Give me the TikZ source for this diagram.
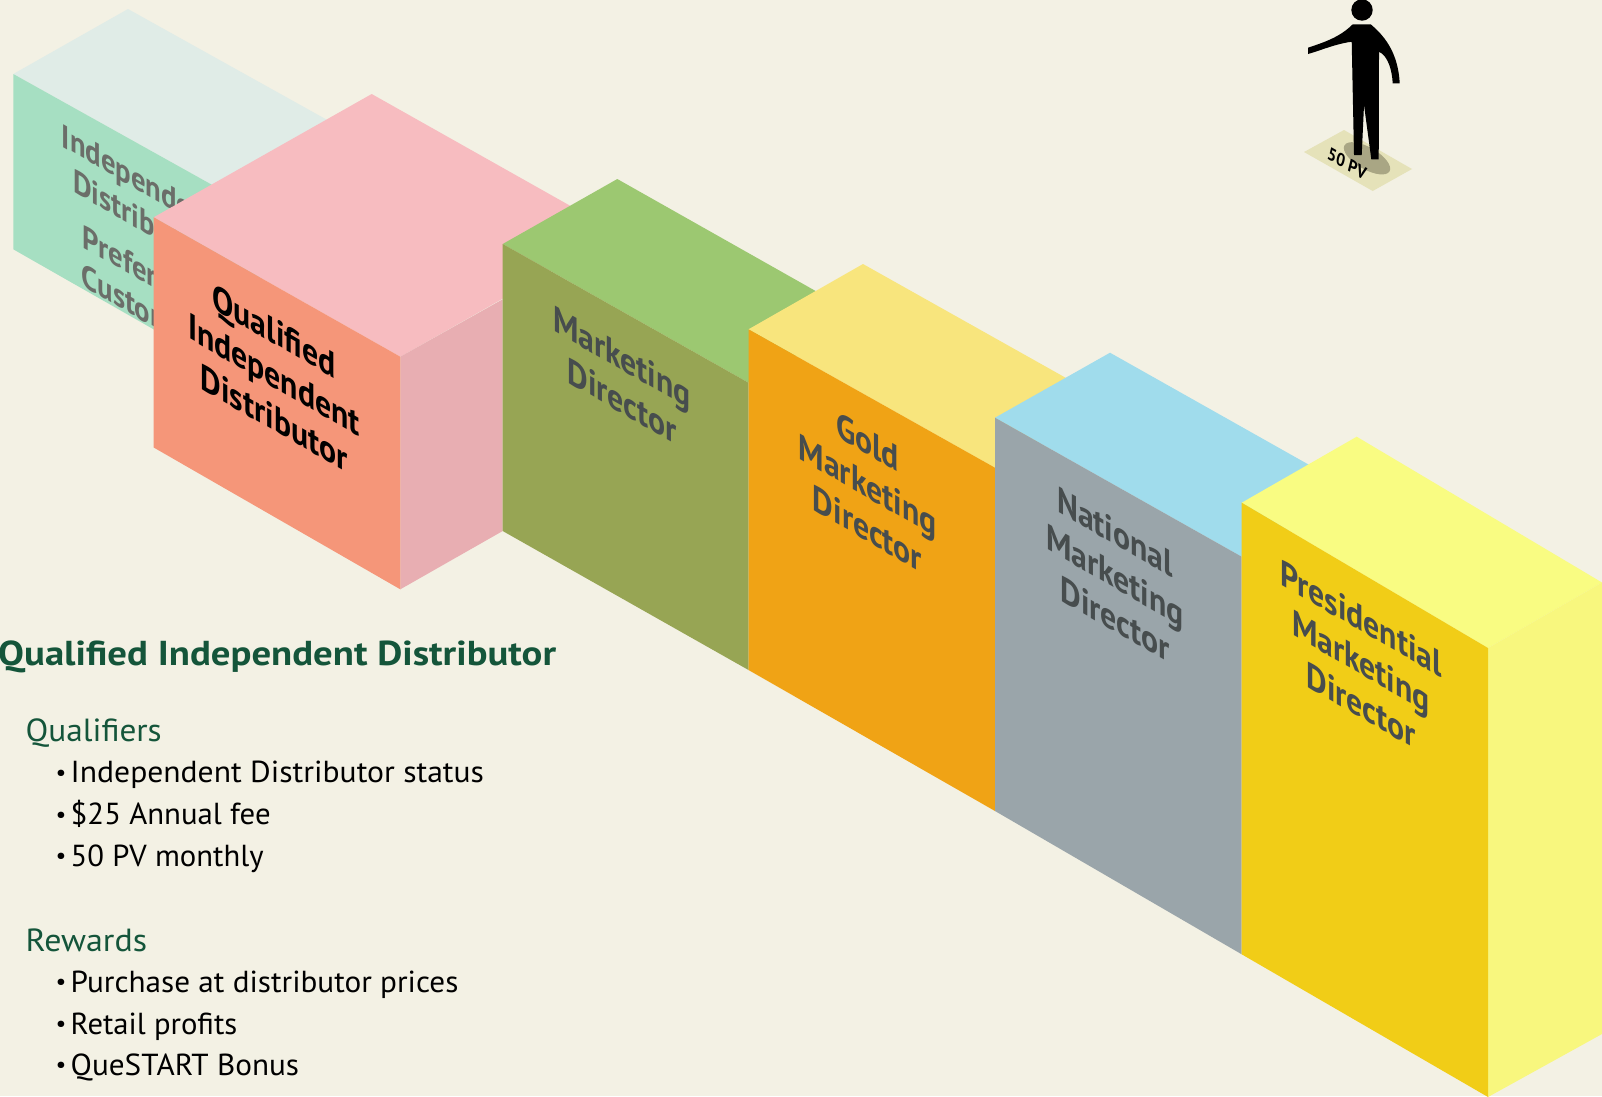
\documentclass[tikz,border=0pt]{standalone}
\usepackage{fontspec}
\setmainfont[FakeStretch=1.04]{PT Sans}
\newfontfamily\headfont[FakeStretch=1.12]{PT Sans Bold}
\newfontfamily\labelfont{PT Sans Bold}
\definecolor{bg}{HTML}{F3F1E4}
\definecolor{headgreen}{HTML}{14553A}
\definecolor{labelgray}{HTML}{474D4E}
\definecolor{faintgray}{HTML}{6B6E69}
\definecolor{aTop}{RGB}{224,236,231}
\definecolor{aFront}{RGB}{166,223,194}
\definecolor{bTop}{RGB}{247,188,192}
\definecolor{bSide}{RGB}{232,174,178}
\definecolor{bFront}{RGB}{245,150,121}
\definecolor{cTop}{RGB}{156,200,113}
\definecolor{cFront}{RGB}{151,165,84}
\definecolor{dTop}{RGB}{248,229,125}
\definecolor{dFront}{RGB}{240,163,21}
\definecolor{eTop}{RGB}{160,220,236}
\definecolor{eFront}{RGB}{154,165,170}
\definecolor{fTop}{RGB}{249,252,130}
\definecolor{fSide}{RGB}{248,247,126}
\definecolor{fFront}{RGB}{241,205,23}
\definecolor{matCol}{RGB}{229,226,185}
\definecolor{shadowCol}{RGB}{169,166,132}
\tikzset{
  iso/.style={cm={.87,-.5,0,1,(0,0)},align=center,inner sep=0pt,font=\fontsize{36.5}{43.5}\selectfont\labelfont},
  isotight/.style={cm={.87,-.5,0,1,(0,0)},align=center,inner sep=0pt,font=\fontsize{33}{39}\selectfont\labelfont},
  floorlabel/.style={cm={.87,-.5,.25,1,(0,0)},inner sep=0pt,font=\fontsize{17}{17}\selectfont\labelfont},
  headline/.style={anchor=base west,inner sep=0pt,text=headgreen,font=\fontsize{34.6}{34.6}\selectfont\headfont},
  sectionhead/.style={anchor=base west,inner sep=0pt,text=headgreen,font=\fontsize{32}{32}\selectfont},
  listitem/.style={anchor=base west,inner sep=0pt,text=black,font=\fontsize{30.4}{30.4}\selectfont},
  listbullet/.style={anchor=base west,inner sep=0pt,text=black,font=\fontsize{23}{23}\selectfont},
}
\begin{document}
\begin{tikzpicture}[x=1pt,y=-1pt]
\useasboundingbox (0,0) rectangle (1602,1096);
\clip (0,0) rectangle (1602,1096);
\fill[bg] (0,0) rectangle (1602,1096);
% block 1
\fill[aTop] (13.3,74) -- (128,9) -- (374,146) -- (260,211.6) -- cycle;
\fill[aFront] (13.3,74) -- (260,211.6) -- (260,390) -- (13.3,249.3) -- cycle;
\node[isotight,text=faintgray] (b1a) at (139.5,199) {Independent\\Distributor};
\node[isotight,text=faintgray] (b1b) at (140,288) {Preferred\\Customer};
% block 2
\fill[bTop] (153.7,217.3) -- (371.7,94) -- (618.5,233) -- (400.3,356.7) -- cycle;
\fill[bSide] (400.3,356.7) -- (502.7,299.3) -- (502.7,531) -- (400.3,589.3) -- cycle;
\fill[bFront] (153.7,217.3) -- (400.3,356.7) -- (400.3,589.3) -- (153.7,447.5) -- cycle;
\node[iso,text=black] (b2) at (274,374.5) {Qualified\\Independent\\Distributor};
% block 3
\fill[cTop] (502.7,244) -- (617.3,179) -- (862.9,317.7) -- (748.5,382.7) -- cycle;
\fill[cFront] (502.7,244) -- (748.5,382.7) -- (748.5,670) -- (502.7,531) -- cycle;
\node[iso,text=labelgray] (b3) at (622,379) {Marketing\\Director};
% block 4
\fill[dTop] (748.5,329.3) -- (863,264) -- (1109.5,402.4) -- (995,467.7) -- cycle;
\fill[dFront] (748.5,329.3) -- (995,467.7) -- (995,811) -- (748.5,670) -- cycle;
\node[iso,text=labelgray] (b4) at (867.5,485) {Gold\\Marketing\\Director};
% block 5
\fill[eTop] (995,417.7) -- (1110,352.7) -- (1356.7,491.7) -- (1241.7,556.7) -- cycle;
\fill[eFront] (995,417.7) -- (1241.7,556.7) -- (1241.7,954.3) -- (995,811) -- cycle;
\node[iso,text=labelgray] (b5) at (1115,575.5) {National\\Marketing\\Director};
% block 6
\fill[fTop] (1241.7,502.7) -- (1356.7,436.7) -- (1602,582.5) -- (1488,648) -- cycle;
\fill[fSide] (1488,648) -- (1602,582.5) -- (1602,1034) -- (1488,1097) -- cycle;
\fill[fFront] (1241.7,502.7) -- (1488,648) -- (1488,1097) -- (1241.7,954.3) -- cycle;
\node[iso,text=labelgray] (b6) at (1361,661.7) {Presidential\\Marketing\\Director};
% figure
\fill[matCol] (1344,130) -- (1412,169) -- (1372.7,191) -- (1304,152) -- cycle;
\fill[shadowCol,rotate around={-30:(1367,158.3)}] (1367,158.3) ellipse [x radius=26,y radius=11];
\node[floorlabel,text=black] (pv) at (1347,163.5) {50 PV};
\fill[black] (1362,10) circle [radius=10.7];
\fill[black] (1352.7,24.3) -- (1370.7,24.3) .. controls (1382,34) and (1398,50) .. (1399.7,83.3) -- (1392.7,83.3)
  .. controls (1392,70) and (1388,56) .. (1379,51.7) -- (1378.7,159.3) -- (1371.3,159.3) -- (1364,105) -- (1361.7,155) -- (1354,155) -- (1351.7,41.7)
  .. controls (1335,44) and (1322,50) .. (1308,54) -- (1308,47.7) .. controls (1325,42) and (1340,37) .. (1352.7,24.3) -- cycle;
% text
\node[headline] (h) at (-2,665) {Qualified Independent Distributor};
\node[sectionhead] (q) at (25.5,741.6) {Qualifiers};
\node[listbullet] (q1) at (55.5,780) {•};\node[listitem] (q1t) at (70.5,782.6) {Independent Distributor status};
\node[listbullet] (q2) at (55.5,822) {•};\node[listitem,xscale=.975] (q2t) at (70.5,824.6) {\$25 Annual fee};
\node[listbullet] (q3) at (55.5,863.4) {•};\node[listitem,xscale=.97] (q3t) at (70.5,866) {50 PV monthly};
\node[sectionhead,xscale=1.02] (r) at (25.5,951) {Rewards};
\node[listbullet] (r1) at (55.5,989.4) {•};\node[listitem,xscale=.987] (r1t) at (70.5,992) {Purchase at distributor prices};
\node[listbullet] (r2) at (55.5,1031.4) {•};\node[listitem,xscale=.97] (r2t) at (70.5,1034) {Retail profits};
\node[listbullet] (r3) at (55.5,1072.4) {•};\node[listitem,xscale=.987] (r3t) at (70.5,1075) {QueSTART Bonus};
\end{tikzpicture}
\end{document}
